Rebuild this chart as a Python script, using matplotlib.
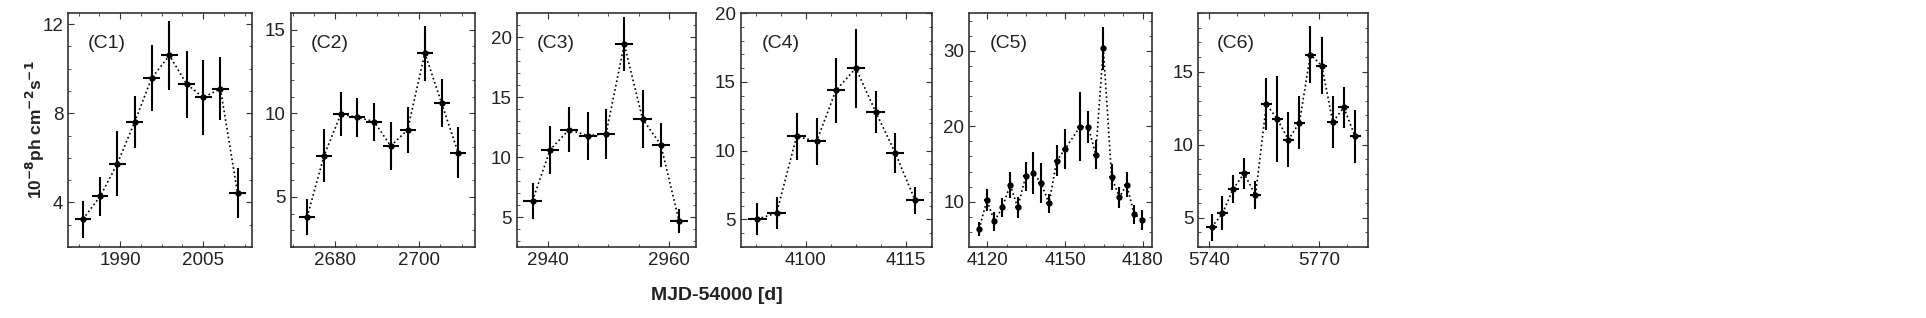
import matplotlib.pyplot as plt
from matplotlib.ticker import AutoMinorLocator

plt.rcParams['font.family'] = ['Liberation Sans', 'DejaVu Sans']

# light curves: time (MJD-54000), flux, 1-sigma error
c1_t = [1983.3, 1986.4, 1989.5, 1992.6, 1995.7, 1998.9, 2002.0, 2005.0, 2008.1, 2011.2]
c1_f = [3.25, 4.27, 5.74, 7.59, 9.58, 10.6, 9.31, 8.71, 9.1, 4.41]
c1_e = [0.83, 0.88, 1.45, 1.17, 1.47, 1.55, 1.5, 1.68, 1.42, 1.12]

c2_t = [2673.4, 2677.4, 2681.4, 2685.3, 2689.3, 2693.2, 2697.2, 2701.3, 2705.3, 2709.2]
c2_f = [3.8, 7.46, 9.96, 9.76, 9.5, 8.04, 9.0, 13.6, 10.6, 7.64]
c2_e = [1.1, 1.6, 1.3, 1.15, 1.14, 1.43, 1.4, 1.65, 1.45, 1.52]

c3_t = [2937.5, 2940.4, 2943.5, 2946.6, 2949.6, 2952.6, 2955.6, 2958.6, 2961.6]
c3_f = [6.36, 10.6, 12.28, 11.78, 11.94, 19.4, 13.17, 11.03, 4.69]
c3_e = [1.5, 2.0, 1.9, 2.0, 2.07, 2.27, 2.44, 1.83, 1.0]

c4_t = [4092.7, 4095.6, 4098.6, 4101.6, 4104.5, 4107.5, 4110.5, 4113.4, 4116.4]
c4_f = [5.02, 5.48, 11.04, 10.67, 14.37, 15.99, 12.8, 9.86, 6.4]
c4_e = [1.15, 1.18, 1.72, 1.68, 2.35, 2.87, 1.52, 1.45, 0.97]

c5_t = [4116.8, 4119.8, 4122.7, 4125.8, 4128.8, 4131.7, 4134.8, 4137.8, 4140.7, 4143.8,
        4146.8, 4150.0, 4155.8, 4159.0, 4161.85, 4164.8, 4168.0, 4171.0, 4173.8, 4176.75, 4179.85]
c5_f = [6.38, 10.22, 7.4, 9.25, 12.25, 9.25, 13.35, 13.8, 12.48, 9.78,
        15.43, 16.98, 19.93, 19.93, 16.23, 30.35, 13.3, 10.57, 12.25, 8.37, 7.57]
c5_e = [0.88, 1.45, 1.22, 1.25, 1.75, 1.4, 1.97, 2.83, 2.65, 1.26,
        2.07, 2.6, 4.55, 2.1, 1.88, 2.85, 1.73, 1.37, 1.62, 1.26, 1.33]

c6_t = [5740.65, 5743.6, 5746.5, 5749.5, 5752.6, 5755.6, 5758.6, 5761.6, 5764.6, 5767.6,
        5770.7, 5773.7, 5776.7, 5779.8]
c6_f = [4.36, 5.3, 6.96, 8.03, 6.54, 12.77, 11.72, 10.34, 11.51, 16.15, 15.41, 11.55, 12.54, 10.57]
c6_e = [0.93, 1.16, 0.96, 1.07, 0.94, 1.8, 2.94, 1.9, 1.84, 1.93, 1.95, 1.76, 1.4, 1.8]

labels = ['(C1)', '(C2)', '(C3)', '(C4)', '(C5)', '(C6)']
half_bin = [1.5, 1.9, 1.5, 1.4, 1.0, 1.5]
xlims = [(1980.6, 2013.8), (2669.5, 2713.2), (2934.9, 2964.4),
         (4090.2, 4118.9), (4113.0, 4183.5), (5737.0, 5783.4)]
ylims = [(2, 12.5), (2, 16), (2.5, 22), (3, 20), (4, 35), (3, 19)]
xticks = [[1990, 2005], [2680, 2700], [2940, 2960], [4100, 4115], [4120, 4150, 4180], [5740, 5770]]
yticks = [[4, 8, 12], [5, 10, 15], [5, 10, 15, 20], [5, 10, 15, 20], [10, 20, 30], [5, 10, 15]]

series = [(c1_t, c1_f, c1_e), (c2_t, c2_f, c2_e), (c3_t, c3_f, c3_e),
          (c4_t, c4_f, c4_e), (c5_t, c5_f, c5_e), (c6_t, c6_f, c6_e)]

# axes edges in pixels (left, right)
edges = [(68, 252), (290.7, 475), (516.7, 696), (740.7, 931.7), (969.3, 1151.7), (1198.3, 1368.3)]
W, H = 1926, 318
fig = plt.figure(figsize=(W / 100, H / 100), dpi=100)

for i, (t, f, e) in enumerate(series):
    l, r = edges[i]
    ax = fig.add_axes([l / W, 1 - 247 / H, (r - l) / W, (247 - 13) / H])
    ax.plot(t, f, ls=':', color='black', lw=1.2)
    ax.errorbar(t, f, yerr=e, xerr=half_bin[i], fmt='o', ms=3.5, color='black',
                ecolor='black', elinewidth=1.5, capsize=0)
    ax.set_xlim(xlims[i])
    ax.set_ylim(ylims[i])
    ax.set_xticks(xticks[i])
    ax.set_yticks(yticks[i])
    ax.xaxis.set_minor_locator(AutoMinorLocator())
    ax.yaxis.set_minor_locator(AutoMinorLocator())
    ax.tick_params(which='both', direction='in', top=True, right=True, labelsize=13.5,
                   colors='#333333', labelcolor='#222222')
    ax.tick_params(which='major', length=4)
    ax.tick_params(which='minor', length=2)
    for s in ax.spines.values():
        s.set_color('#333333')
        s.set_linewidth(1.2)
    ax.text(0.11, 0.87, labels[i], transform=ax.transAxes, ha='left', va='center',
            fontsize=14, color='#222222')

fig.text(35 / W, 1 - 130 / H, r'10$^{\mathbf{-8}}$ph cm$^{\mathbf{-2}}$s$^{\mathbf{-1}}$',
         rotation=90, ha='center', va='center', fontsize=12.5, fontweight='bold', color='#222222')
fig.text(717 / W, 1 - 296 / H, 'MJD-54000 [d]', ha='center', va='center',
         fontsize=14, fontweight='bold', color='#222222')

fig.savefig('out.png', dpi=100)
